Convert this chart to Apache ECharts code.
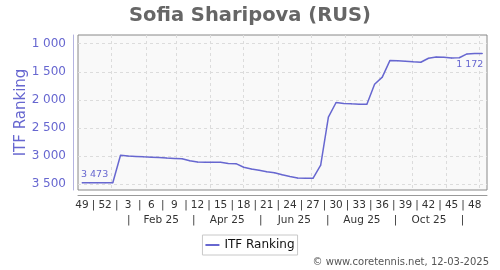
<!DOCTYPE html>
<html>
<head>
<meta charset="utf-8">
<script src="https://cdn.jsdelivr.net/npm/echarts@6/dist/echarts.min.js"></script>
<style>html,body{margin:0;padding:0;background:#fff}#c{width:500px;height:270px}</style>
</head>
<body>
<div id="c"></div>
<script>
// ---- data ----
const titleText = 'Sofia Sharipova (RUS)';
const seriesName = 'ITF Ranking';
const footerText = '\u00a9 www.coretennis.net, 12-03-2025';
const firstWeekDate = '2024-12-05';               // date of the first weekly point (week 49, 2024)
const weekLabels = ['49','52','3','6','9','12','15','18','21','24','27','30','33','36','39','42','45','48'];
const weekLabelStep = 3;                           // one week label every 3 weeks
const monthLabels = ['Feb 25','Apr 25','Jun 25','Aug 25','Oct 25'];
const monthLabelMonths = ['2025-02','2025-04','2025-06','2025-08','2025-10'];
const monthSeparatorMonths = ['2025-01','2025-03','2025-05','2025-07','2025-09','2025-11'];
const gridMonths = ['2025-01','2025-02','2025-03','2025-04','2025-05','2025-06','2025-07','2025-08','2025-09','2025-10','2025-11','2025-12'];
const yTicks = [1000,1500,2000,2500,3000,3500];
const ranking = [
  3473,3473,3473,3473,3473,2985,2998,3005,3012,3018,
  3026,3034,3040,3046,3082,3103,3108,3108,3109,3132,
  3134,3198,3228,3252,3276,3294,3330,3362,3389,3392,
  3395,3160,2305,2046,2062,2070,2075,2078,1720,1595,
  1297,1303,1312,1322,1330,1258,1235,1242,1255,1250,
  1182,1176,1172
];

// ---- helpers ----
const DAY = 86400000;
const t0 = Date.parse(firstWeekDate + 'T00:00:00Z');
function weeksFrom(dateStr){ return (Date.parse(dateStr + 'T00:00:00Z') - t0) / (7*DAY); }
function monthStart(ym){ return weeksFrom(ym + '-01'); }
function nextMonth(ym){ let [y,m]=ym.split('-').map(Number); m++; if(m>12){m=1;y++;} return y+'-'+String(m).padStart(2,'0'); }
function monthMid(ym){ return (monthStart(ym) + monthStart(nextMonth(ym))) / 2; }
function fmtNum(v){ return String(v).replace(/\B(?=(\d{3})+(?!\d))/g, ' '); }

const seriesData = ranking.map((v,i)=>[i,v]);
const weekTickVals = weekLabels.map((_,k)=>k*weekLabelStep);
const weekSepVals = weekLabels.map((_,k)=>k*weekLabelStep + weekLabelStep/2).slice(0, weekLabels.length-1);
const gridVals = gridMonths.map(monthStart);
const monthLabelVals = monthLabelMonths.map(monthMid);
const monthSepVals = monthSeparatorMonths.map(monthMid);

const blue = '#6767d0';
const font = 'DejaVu Sans';
const xMin = -0.52, xMax = 52.6;

function near(a,b){ return Math.abs(a-b) < 1e-6; }

seriesData[0] = {value:[0, ranking[0]], label:{show:true, position:'top', align:'left', offset:[-1,2], formatter: () => fmtNum(ranking[0]), color: blue, fontSize: 9.5, fontFamily: font}};
const last = ranking.length-1;
seriesData[last] = {value:[last, ranking[last]], label:{show:true, position:'bottom', align:'right', offset:[2,0], formatter: () => fmtNum(ranking[last]), color: blue, fontSize: 9.5, fontFamily: font, backgroundColor:'#f9f9f9', padding:[1,1,0,2]}};

const chart = echarts.init(document.getElementById('c'), null, {renderer:'canvas'});
chart.setOption({
  animation: false,
  backgroundColor: '#ffffff',
  title: {text: titleText, left: 'center', top: 1, textStyle:{fontFamily: font, fontSize: 19.5, fontWeight:'bold', color:'#666'}},
  grid: {left: 78, right: 13, top: 35, bottom: 80, show: true, backgroundColor:'#f9f9f9', borderColor:'#888', borderWidth:1},
  legend: {data:[seriesName], top: 235, left:'center', icon:'rect', itemWidth:14, itemHeight:2, itemGap: 5,
    borderColor:'#c8c8c8', borderWidth:1, padding:[4,3,4,3], borderRadius:0,
    textStyle:{fontFamily: font, fontSize:12, color:'#111'}},
  graphic: [{type:'text', right: 11, top: 257, style:{text: footerText, font: '10px "DejaVu Sans"', fill:'#555'}}],
  xAxis: [
    {type:'value', min:xMin, max:xMax, position:'bottom', offset:5,
      axisLine:{show:true, onZero:false, lineStyle:{color:'#999'}},
      axisTick:{show:false, customValues: gridVals},
      splitLine:{show:true, lineStyle:{color:'#dcdcdc', type:[3,3]}},
      axisLabel:{customValues: weekTickVals.concat(weekSepVals), margin:5, color:'#333', fontFamily: font, fontSize: 10.5,
        formatter: v => { const k = weekTickVals.findIndex(w=>near(w,v)); return k>=0 ? weekLabels[k] : '|'; }}
    },
    {type:'value', min:xMin, max:xMax, position:'bottom', offset:5,
      axisLine:{show:false, onZero:false}, axisTick:{show:false}, splitLine:{show:false},
      axisLabel:{customValues: monthLabelVals.concat(monthSepVals), margin:20, color:'#333', fontFamily: font, fontSize: 10.5,
        formatter: v => { const k = monthLabelVals.findIndex(w=>near(w,v)); return k>=0 ? monthLabels[k] : '|'; }}
    }
  ],
  yAxis: {type:'value', inverse:true, min:845, max:3602, offset:5,
    name: seriesName, nameLocation:'middle', nameGap:44, nameMoveOverlap:false, nameTextStyle:{color: blue, fontFamily: font, fontSize:15},
    axisLine:{show:true, onZero:false, lineStyle:{color:'#b4b4e0'}},
    axisTick:{show:false, customValues: yTicks},
    splitLine:{show:true, lineStyle:{color:'#dcdcdc', type:[3,3]}},
    axisLabel:{customValues: yTicks, margin:7, color: blue, fontFamily: font, fontSize:12,
      formatter: v => fmtNum(v)}
  },
  series: [{type:'line', name: seriesName, data: seriesData, xAxisIndex:0,
    symbol:'circle', symbolSize:1, showSymbol:true,
    lineStyle:{color: blue, width:1.5}, itemStyle:{color: blue},
    emphasis:{disabled:true}}]
});
</script>
</body>
</html>
